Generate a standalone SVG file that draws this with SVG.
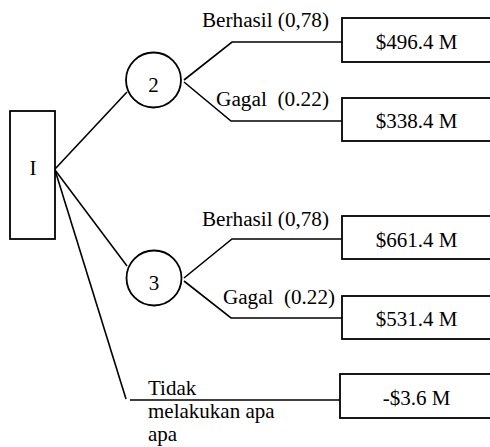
<svg xmlns="http://www.w3.org/2000/svg" width="490" height="447" viewBox="0 0 490 447">
  <style>
    .shape { fill: #ffffff; stroke: #000000; stroke-width: 1.8; }
    .edge { fill: none; stroke: #000000; stroke-width: 1.6; }
    .mid { text-anchor: middle; }
  </style>
  <rect width="490" height="447" fill="#ffffff"/>

  <!-- branches -->
  <g id="connectors">
    <polyline class="edge" points="55,169 127,92"/>
    <polyline class="edge" points="55,170 127,266"/>
    <polyline class="edge" points="55,170 126,399"/>
    <polyline class="edge" points="130,400 340,400"/>
    <polyline class="edge" points="184,80 232,42 342,42"/>
    <polyline class="edge" points="184,82 231,121 342,121"/>
    <polyline class="edge" points="184,278 232,239 342,239"/>
    <polyline class="edge" points="184,281 231,318 342,318"/>
  </g>

  <g font-family="Liberation Serif, Tinos, DejaVu Serif, serif" font-size="21" fill="#000000">
  <!-- decision node -->
  <g id="node-I">
    <rect class="shape" x="10" y="111" width="45" height="128"/>
    <text class="mid" x="33" y="175">I</text>
  </g>

  <!-- chance nodes -->
  <g id="node-2">
    <circle class="shape" cx="153.5" cy="80" r="27.5"/>
    <text class="mid" x="153.5" y="92">2</text>
  </g>
  <g id="node-3">
    <circle class="shape" cx="154" cy="278" r="27.5"/>
    <text class="mid" x="154" y="290">3</text>
  </g>

  <!-- branch labels -->
  <g id="labels">
    <text x="202" y="27" font-size="20" textLength="127" lengthAdjust="spacingAndGlyphs">Berhasil (0,78)</text>
    <text x="216" y="106" font-size="20" textLength="113" lengthAdjust="spacingAndGlyphs" xml:space="preserve">Gagal  (0.22)</text>
    <text x="202" y="226" font-size="20" textLength="127" lengthAdjust="spacingAndGlyphs">Berhasil (0,78)</text>
    <text x="223" y="304" font-size="20" textLength="112" lengthAdjust="spacingAndGlyphs" xml:space="preserve">Gagal  (0.22)</text>
    <text x="148" y="395">Tidak</text>
    <text x="148" y="418">melakukan apa</text>
    <text x="148" y="441">apa</text>
  </g>

  <!-- outcome nodes -->
  <g id="outcome-1">
    <rect class="shape" x="342" y="18" width="160" height="44"/>
    <text class="mid" x="416.5" y="49">$496.4 M</text>
  </g>
  <g id="outcome-2">
    <rect class="shape" x="342" y="98" width="160" height="43"/>
    <text class="mid" x="416.5" y="128">$338.4 M</text>
  </g>
  <g id="outcome-3">
    <rect class="shape" x="342" y="216" width="160" height="43"/>
    <text class="mid" x="416.5" y="247">$661.4 M</text>
  </g>
  <g id="outcome-4">
    <rect class="shape" x="342" y="296" width="160" height="43"/>
    <text class="mid" x="416.5" y="326">$531.4 M</text>
  </g>
  <g id="outcome-5">
    <rect class="shape" x="340" y="374" width="162" height="44"/>
    <text class="mid" x="416.5" y="405">-$3.6 M</text>
  </g>
  </g>
</svg>
